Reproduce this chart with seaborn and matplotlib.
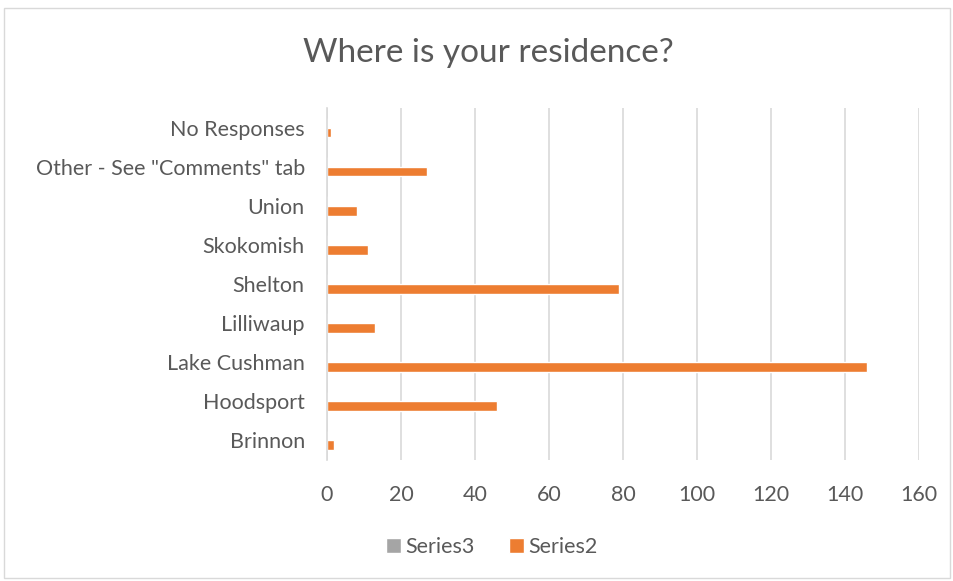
import pandas as pd
import matplotlib.pyplot as plt
import seaborn as sns
from matplotlib.patches import Rectangle

# categories listed top to bottom, as they appear on the chart
places = ["No Responses", 'Other - See "Comments" tab', "Union", "Skokomish",
          "Shelton", "Lilliwaup", "Lake Cushman", "Hoodsport", "Brinnon"]
series2 = [1, 27, 8, 11, 79, 13, 146, 46, 2]
series3 = [0, 0, 0, 0, 0, 0, 0, 0, 0]

series_names = ["Series3", "Series2"]
colors = {"Series3": "#a5a5a5", "Series2": "#ed7d31"}
text_col = "#595959"

df = pd.DataFrame({
    "place": places * 2,
    "count": series3 + series2,
    "series": ["Series3"] * len(places) + ["Series2"] * len(places),
})

sns.set_theme(style="white")
plt.rcParams["font.family"] = ["Lato", "DejaVu Sans"]

fig = plt.figure(figsize=(9.54, 5.81), dpi=100)
ax = fig.add_axes([327 / 954, 1 - 460 / 581, (919 - 327) / 954, (460 - 108) / 581])

sns.barplot(data=df, y="place", x="count", hue="series", order=places,
            hue_order=series_names, palette=colors, width=0.5, ax=ax,
            orient="h", saturation=1)

ax.set_xlim(0, 160)
ax.set_xticks(range(0, 161, 20))
ax.grid(axis="x", color="#d9d9d9", linewidth=1.2)
ax.set_axisbelow(True)
for s in ["top", "right", "bottom"]:
    ax.spines[s].set_visible(False)
ax.spines["left"].set_color("#d9d9d9")
ax.spines["left"].set_linewidth(1.2)
ax.set_xlabel("")
ax.set_ylabel("")
ax.tick_params(axis="both", length=0, labelsize=15.5, colors=text_col)
ax.tick_params(axis="x", pad=18)
ax.tick_params(axis="y", pad=16)

fig.text(0.512, 1 - 53 / 581, "Where is your residence?", ha="center", va="center",
         fontsize=24, color=text_col)

leg = ax.legend(loc="center", bbox_to_anchor=(492 / 954, 1 - 547 / 581),
                bbox_transform=fig.transFigure, ncol=2, frameon=False,
                fontsize=15.5, handlelength=0.7, handleheight=0.7,
                handletextpad=0.2, columnspacing=1.6)
for t in leg.get_texts():
    t.set_color(text_col)

fig.patches.append(Rectangle((4 / 954, 3 / 581), 946 / 954, 570 / 581,
                             transform=fig.transFigure, fill=False,
                             edgecolor="#d9d9d9", linewidth=1))

fig.savefig("out.png", dpi=100)
